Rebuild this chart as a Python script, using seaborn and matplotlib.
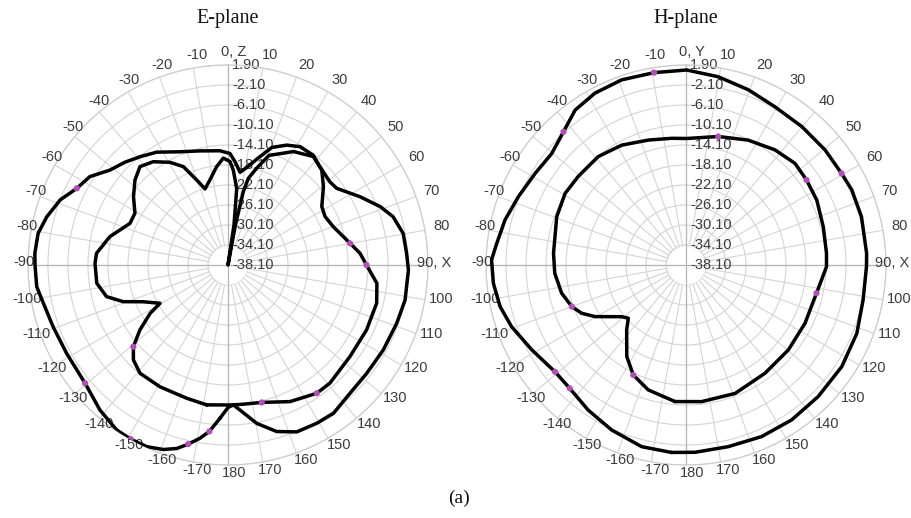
import numpy as np
import pandas as pd
import matplotlib
matplotlib.use("Agg")
import matplotlib.pyplot as plt
from matplotlib.transforms import offset_copy
import seaborn as sns

# ---------------- data (angle in degrees, clockwise from top; level in dB) ----------------
e_outer_theta = [-177, -173.6, -170.8, -167.5, -164.4, -160.7, -155.9, -150.8, -146, -138.6,
                 -129.6, -118.7, -109.4, -101.7, -96.5, -90, -86.5, -80.5, -75.1, -68.8,
                 -63.1, -57.4, -51.2, -45, -39.1, -32.3, -23, -13.8, -4, 1, 3.9, 7.4, 11,
                 15.5, 20.5, 26.1, 31.3, 37.8, 43.1, 50.8, 54.8, 62.6, 69, 73.7, 79.8, 86.3,
                 91.6, 101.2, 109.1, 118.7, 128, 136.4, 144.6, 150.7, 157.6, 163.7, 169.7,
                 175.3, 177.8, 180]
e_outer_db = [-7.4, -4.6, -3.0, -1.4, 0.0, 1.0, 1.7, 1.8, 1.7, 0.6,
              -1.0, -1.3, -1.0, -0.4, 0.4, 0.5, 0.6, 0.4, -0.6, -2.1,
              -4.2, -5.3, -7.8, -9.0, -10.2, -11.4, -13.5, -14.6, -15.2, -15.8, -17.4, -19.4, -18.2,
              -16.0, -13.0, -11.4, -10.4, -10.3, -11.2, -11.8, -11.5, -8.4, -5.5, -3.7, -2.5, -2.3,
              -2.0, -2.0, -2.4, -2.7, -2.9, -2.7, -1.7, -1.8, -2.0, -3.4, -5.9,
              -9.0, -10.1, -9.6]

e_inner_theta = [-171.3, -162.8, -150.8, -140.9, -135.1, -130.8, -126.4, -121.8, -119.4, -113.4,
                 -109.3, -104.6, -97.9, -89.3, -84.9, -76.5, -67, -60.9, -54.2, -47.6,
                 -41.8, -35.9, -29.5, -24.4, -20.2, -16.8, -12, -6.6, -2.5, 1.1, 3.2, 6.5,
                 8.5, 9.5, 10.5, 11.8, 13.2, 16.5, 20.5, 30, 38.2, 44.6, 50.6, 58.1, 63.5,
                 70, 79.9, 84.9, 90, 97, 104.4, 115.1, 126.9, 139.2, 145.3, 155.6, 166.2,
                 175.1, 179.2]
e_inner_db = [-9.8, -10.2, -10.2, -10.2, -11.3, -13.1, -16.2, -19.8, -22.5, -19.6,
              -15.9, -13.0, -11.6, -11.5, -11.7, -13.8, -16.8, -16.8, -14.8, -12.9,
              -11.7, -12.6, -14.5, -16.5, -20.0, -22.2, -20.7, -18.3, -16.7, -17.4, -19.1, -22.7,
              -30.0, -38.1, -30.0, -23.1, -20.3, -17.9, -14.7, -11.9, -10.5, -11.4, -13.4, -16.0, -16.4,
              -15.7, -13.3, -11.6, -10.4, -8.1, -7.4, -7.5, -7.6, -6.9, -6.9, -8.1, -9.8,
              -10.1, -10.1]

h_outer_theta = [-175.6, -166.3, -155.8, -146, -136.7, -129.2, -118.8, -109.5, -102.6, -95.4,
                 -88.5, -83.5, -76, -67.8, -58.7, -50.3, -42.6, -35.6, -27.9, -19.2,
                 -9.4, 0.2, 9.7, 19.6, 29.3, 39.9, 50.4, 59.5, 65.6, 74.6,
                 86.3, 90.5, 101.2, 111.8, 123.1, 134.9, 145.7, 156.2, 166.9, 177.2]
h_outer_db = [-0.5, -0.7, -1.9, -3.1, -4.2, -4.3, -2.9, -1.1, 0.0, 0.6,
              0.8, 0.0, -0.8, -1.9, -2.8, -3.2, -1.9, 0.0, 0.8, 1.1,
              0.9, 0.9, 0.1, -0.9, -1.8, -2.0, -2.0, -2.0, -1.7, -1.7,
              -1.9, -2.0, -2.0, -1.3, -0.9, -0.8, -0.6, -0.6, -0.8, -0.6]

h_inner_theta = [-175.4, -163.2, -154.4, -147.1, -137.6, -132.7, -128.8, -119.6, -114.8, -110,
                 -102.8, -93.6, -85, -69.5, -59.4, -50.6, -39, -28.2, -16.8, -6.4,
                 0.3, 14.1, 26.5, 37.7, 47, 54.8, 63.6, 74.4, 85.2, 90.7,
                 102.2, 116.1, 129.7, 143.9, 159.1, 173.5]
h_inner_db = [-10.7, -12.0, -13.7, -16.3, -20.5, -22.4, -21.6, -17.2, -15.1, -13.8,
              -12.6, -11.8, -11.5, -10.5, -10.0, -10.2, -10.2, -10.9, -12.0, -12.6,
              -12.8, -11.6, -10.2, -9.0, -8.3, -8.6, -8.9, -9.6, -9.9, -10.0,
              -11.4, -11.6, -11.5, -11.3, -10.6, -10.6]

# magenta markers on the traces
e_mark_theta = [-63.1, 80.0, 90.0, -130.8, -129.6, -150.8, -167.5, -173.6, 166.2, 145.3]
e_mark_db = [-4.2, -13.3, -10.4, -13.1, -1.0, 1.8, -1.4, -4.6, -9.8, -6.9]
h_mark_theta = [-9.4, -42.6, 59.5, -129.2, -136.7, 14.1, 54.8, 102.2, -154.4, -110]
h_mark_db = [0.9, -1.9, -2.0, -4.3, -4.2, -11.6, -8.6, -11.4, -13.7, -13.8]

ring_values = [-34.1, -30.1, -26.1, -22.1, -18.1, -14.1, -10.1, -6.1, -2.1, 1.9]
ring_labels = ["-38.10", "-34.10", "-30.10", "-26.10", "-22.10", "-18.10", "-14.10",
               "-10.10", "-6.10", "-2.10", "1.90"]
angle_ticks = list(range(0, 360, 10))

R_MIN, R_MAX = -38.1, 1.9

# ---------------- figure ----------------
sns.set_theme(style="white")
plt.rcParams['font.family'] = ['Liberation Sans', 'DejaVu Sans']

W, H = 911, 518
fig = plt.figure(figsize=(W / 100, H / 100), dpi=100)
fig.patch.set_facecolor("white")

TICK_COLOR = "#3c3c3c"
GRID_COLOR = "#d4d4d4"


def angle_label(a, top_name):
    if a == 0:
        return "0, " + top_name
    if a == 90:
        return "90, X"
    return str(a if a <= 180 else a - 360)


def closed(theta, db):
    t = list(theta) + [theta[0]]
    d = list(db) + [db[0]]
    return pd.DataFrame({"theta": np.deg2rad(t), "db": d})


def make_panel(left_px, top_name, curves, mark_theta, mark_db, title, cx):
    ax = fig.add_axes([left_px / W, (H - 465) / H, 400 / W, 400 / H], projection="polar")
    ax.set_theta_zero_location("N")
    ax.set_theta_direction(-1)
    ax.set_rlim(R_MIN, R_MAX)
    ax.set_axisbelow(True)
    ax.set_facecolor("white")

    ax.set_thetagrids(angle_ticks, [""] * len(angle_ticks))
    ax.set_rgrids(ring_values, labels=[""] * len(ring_values))
    ax.grid(True, color=GRID_COLOR, lw=0.8)
    ax.spines["polar"].set_color("#cccccc")
    ax.spines["polar"].set_linewidth(0.9)
    ax.tick_params(axis="x", size=0, pad=0)

    # angle labels just outside the rim (slightly shifted right/up like the original)
    for a in angle_ticks:
        s, c = np.sin(np.deg2rad(a)), np.cos(np.deg2rad(a))
        if a == 90:
            tr = offset_copy(ax.transData, fig=fig, x=-11, y=2, units="dots")
            ha = "left"
        else:
            tr = offset_copy(ax.transData, fig=fig, x=10.5 * s + 6.0, y=10.5 * c + 2.5,
                             units="dots")
            ha = "center"
        ax.text(np.deg2rad(a), R_MAX, angle_label(a, top_name), transform=tr,
                ha=ha, va="center", fontsize=10.5, color=TICK_COLOR, clip_on=False)

    # blank centre disk and the four main axes through the centre
    tt = np.linspace(0, 2 * np.pi, 300)
    ax.fill_between(tt, R_MIN, ring_values[0] - 0.15, color="white", zorder=0.8, lw=0)
    for a in (0, 90, 180, 270):
        ax.axvline(np.deg2rad(a), color="#b5b5b5", lw=0.9, zorder=0.9)

    # radial labels along the 0 direction
    trans = offset_copy(ax.transData, fig=fig, x=4, y=0, units="dots")
    for v, lab in zip([R_MIN] + ring_values, ring_labels):
        ax.text(0, v, lab, transform=trans, ha="left", va="center",
                fontsize=10.5, color=TICK_COLOR, zorder=1.2)

    for theta, db in curves:
        df = closed(theta, db)
        sns.lineplot(data=df, x="theta", y="db", ax=ax, sort=False, estimator=None,
                     color="black", lw=2.5, zorder=3)

    mk = pd.DataFrame({"theta": np.deg2rad(mark_theta), "db": mark_db})
    sns.scatterplot(data=mk, x="theta", y="db", ax=ax, color="#b24fb6", s=20,
                    edgecolor="none", zorder=4)

    ax.set_xlabel("")
    ax.set_ylabel("")
    ax.set_rlim(R_MIN, R_MAX)
    fig.text(cx / W, 1 - 19 / H, title, ha="center", va="center",
             fontsize=14.5, family=["Liberation Serif", "DejaVu Serif"], color="#111111")
    return ax


make_panel(28, "Z", [(e_outer_theta, e_outer_db), (e_inner_theta, e_inner_db)],
           e_mark_theta, e_mark_db, "E-plane", 228)
make_panel(486, "Y", [(h_outer_theta, h_outer_db), (h_inner_theta, h_inner_db)],
           h_mark_theta, h_mark_db, "H-plane", 686)

fig.text(459 / W, 1 - 498 / H, "(a)", ha="center", va="center", fontsize=14,
         family=["Liberation Serif", "DejaVu Serif"], color="#111111")

fig.savefig("out.png", dpi=100, facecolor="white")
